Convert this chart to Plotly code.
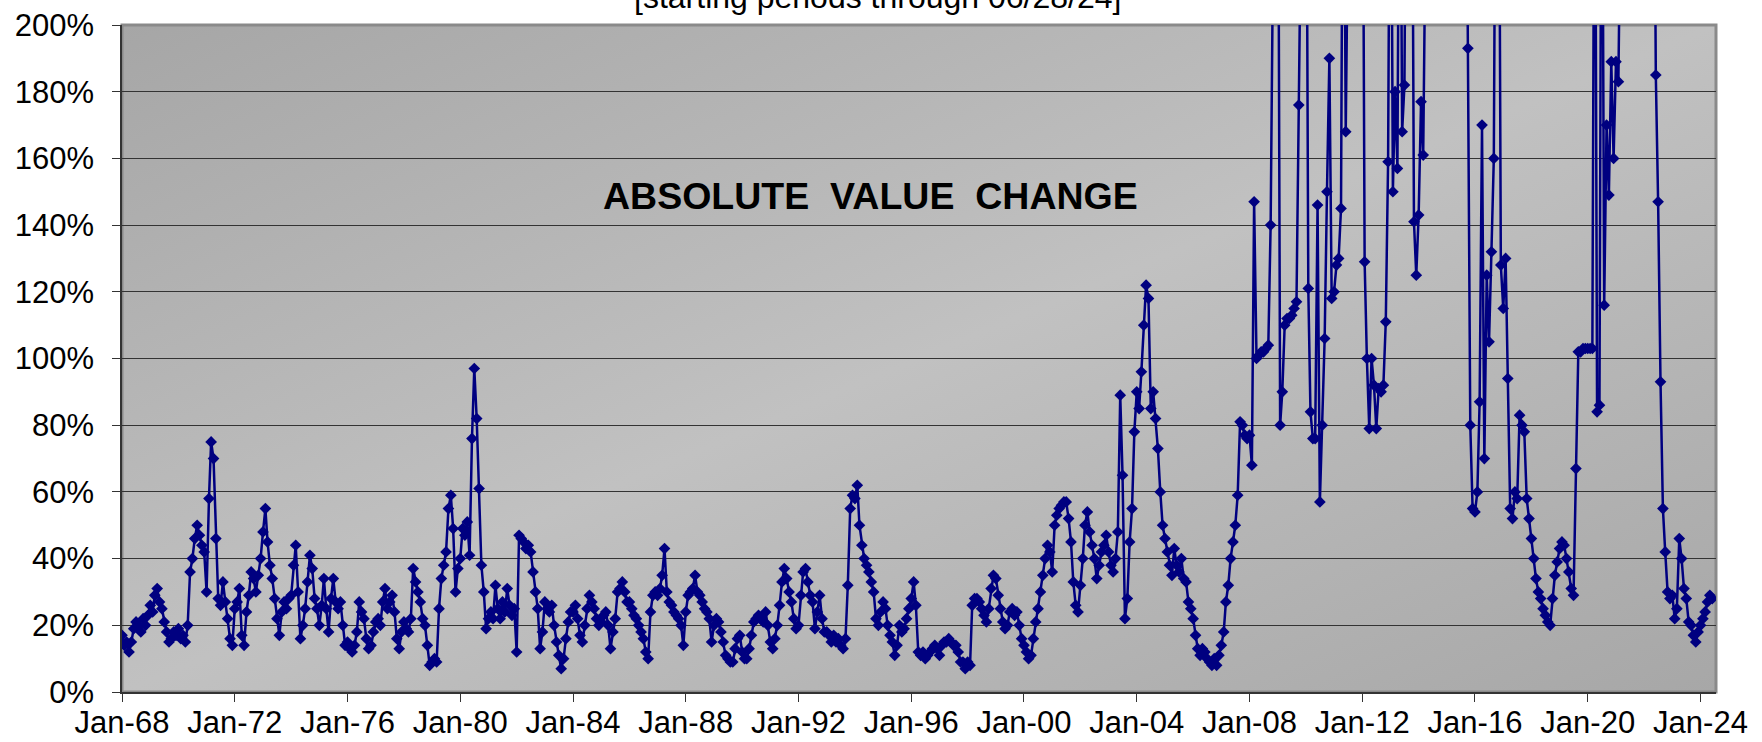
import base64
import pandas as pd
import plotly.graph_objects as go

# ---- data (percent absolute value change, monthly readings) ----
vals_1968_1977 = [
    17, 14, 15, 12, 15, 19, 21, 20, 18, 22, 20, 23,
    26, 24, 29, 31, 27, 25, 21, 18, 15, 16, 18, 17,
    19, 16, 17, 15, 20, 36, 40, 46, 50, 47, 44, 42,
    30, 58, 75, 70, 46, 28, 26, 33, 27, 22, 16, 14,
    25, 27, 31, 17, 14, 24, 29, 36, 34, 30, 35, 40,
    48, 55, 45, 38, 34, 28, 22, 17, 24, 27, 25, 28,
    29, 38, 44, 30, 16, 20, 25, 33, 41, 37, 28, 25,
    20, 26, 34, 25, 18, 28, 34, 27, 25, 27, 20, 14,
    15, 13, 12, 14, 18, 27, 24, 22, 16, 13, 14, 18,
    21, 22, 20, 27, 31, 25, 27, 29, 24, 16, 13, 18,
]
vals_1978_1987 = [
    21, 19, 18, 22, 37, 33, 30, 27, 22, 20, 14, 8,
    9, 10, 9, 25, 34, 38, 42, 55, 59, 49, 30, 37,
    40, 49, 47, 51, 41, 76, 97, 82, 61, 38, 30, 19,
    22, 24, 22, 32, 25, 22, 27, 24, 31, 26, 23, 25,
    12, 47, 46, 45, 43, 44, 42, 36, 30, 25, 13, 18,
    27, 25, 24, 26, 20, 15, 11, 7, 10, 16, 21, 24,
    24, 26, 22, 17, 15, 20, 25, 29, 27, 25, 22, 20,
    21, 23, 24, 20, 13, 18, 22, 30, 31, 33, 30, 27,
    27, 25, 23, 22, 20, 18, 16, 12, 10, 24, 29, 30,
    29, 31, 35, 43, 30, 27, 26, 24, 23, 22, 20, 14,
]
vals_1988_1997 = [
    24, 29, 30, 31, 35, 30, 29, 27, 25, 24, 22, 15,
    20, 22, 21, 18, 15, 11, 10, 9, 9, 13, 16, 17,
    12, 10, 10, 13, 17, 21, 22, 23, 22, 21, 24, 20,
    15, 13, 16, 20, 26, 33, 37, 34, 30, 27, 22, 19,
    20, 29, 36, 37, 33, 29, 27, 19, 24, 29, 22, 18,
    18, 17, 15, 17, 15, 16, 14, 13, 16, 32, 55, 59,
    58, 62, 50, 44, 40, 38, 36, 33, 30, 22, 20, 24,
    27, 25, 20, 17, 15, 11, 14, 20, 18, 19, 22, 25,
    28, 33, 26, 12, 11, 12, 10, 11, 12, 13, 14, 13,
    11, 14, 15, 15, 16, 15, 14, 14, 12, 9, 9, 7,
]
vals_1998_2007 = [
    9, 8, 26, 28, 28, 27, 25, 23, 21, 25, 31, 35,
    34, 29, 25, 21, 19, 20, 24, 25, 23, 24, 20, 16,
    14, 12, 10, 11, 16, 21, 25, 30, 35, 40, 44, 42,
    36, 50, 53, 55, 56, 57, 57, 52, 45, 33, 26, 24,
    32, 40, 50, 54, 48, 44, 40, 34, 38, 42, 44, 47,
    42, 38, 36, 40, 48, 89, 65, 22, 28, 45, 55, 78,
    90, 85, 96, 110, 122, 118, 85, 90, 82, 73, 60, 50,
    46, 42, 38, 35, 43, 38, 36, 40, 34, 33, 27, 25,
    22, 17, 13, 11, 13, 12, 10, 9, 8, 10, 8, 11,
    14, 18, 27, 32, 40, 45, 50, 59, 81, 80, 77, 76,
]
vals_2008_2017 = [
    77, 68, 147, 100, 101, 102, 102, 103, 104, 140, 300, 300,
    300, 80, 90, 110, 112, 112, 113, 115, 117, 176, 300, 300,
    300, 121, 84, 76, 76, 146, 57, 80, 106, 150, 190, 118,
    120, 128, 130, 145, 300, 168, 300, 300, 300, 300, 300, 300,
    300, 129, 100, 79, 100, 92, 79, 91, 90, 92, 111, 159,
    300, 150, 180, 157, 300, 168, 182, 300, 300, 300, 141, 125,
    143, 177, 161, 300, 300, 300, 300, 300, 300, 300, 300, 300,
    300, 300, 300, 300, 300, 300, 300, 300, 300, 193, 80, 55,
    54, 60, 87, 170, 70, 125, 105, 132, 160, 300, 300, 128,
    115, 130, 94, 55, 52, 60, 58, 83, 80, 78, 58, 52,
]
vals_2018_2024 = [
    46, 40, 34, 30, 28, 25, 23, 21, 20, 28, 35, 39,
    43, 45, 44, 40, 36, 31, 29, 67, 102, 102, 103, 103,
    103, 103, 103, 300, 84, 86, 300, 116, 170, 149, 189, 160,
    189, 183, 300, 300, 300, 300, 300, 300, 300, 300, 300, 300,
    300, 300, 300, 300, 300, 185, 147, 93, 55, 42, 30, 28,
    29, 22, 25, 46, 40, 31, 28, 21, 20, 17, 15, 18,
    20, 22, 24, 27, 29, 28,
]

values = (vals_1968_1977 + vals_1978_1987 + vals_1988_1997
          + vals_1998_2007 + vals_2008_2017 + vals_2018_2024)
dates = pd.date_range("1968-01-01", periods=len(values), freq="MS")

title_text = "[starting periods through 06/28/24]"
label_text = "ABSOLUTE\u00a0\u00a0VALUE\u00a0\u00a0CHANGE"

# ---- gradient background (diagonal, like the spreadsheet fill) ----
svg = (
    "<svg xmlns='http://www.w3.org/2000/svg' width='1600' height='670' "
    "viewBox='0 0 1600 670' preserveAspectRatio='none'>"
    "<defs><linearGradient id='g' x1='0' y1='0' x2='1' y2='1'>"
    "<stop offset='0' stop-color='#a6a6a6'/>"
    "<stop offset='0.5' stop-color='#c1c1c1'/>"
    "<stop offset='1' stop-color='#a7a7a7'/>"
    "</linearGradient></defs>"
    "<rect width='1600' height='670' fill='url(#g)'/></svg>"
)
bg_src = "data:image/svg+xml;base64," + base64.b64encode(svg.encode()).decode()

FONT = "Liberation Sans, Arial, sans-serif"

fig = go.Figure()
fig.add_trace(go.Scatter(
    x=dates, y=values, mode="lines+markers",
    line=dict(color="#000080", width=2.5),
    marker=dict(symbol="diamond", size=9, color="#000080"),
    showlegend=False, hoverinfo="skip",
))

fig.update_layout(
    width=1762, height=742,
    margin=dict(l=122, r=46, t=25, b=50, autoexpand=False),
    paper_bgcolor="white",
    plot_bgcolor="rgba(0,0,0,0)",
    font=dict(family=FONT, size=31, color="black"),
    images=[dict(source=bg_src, xref="paper", yref="paper", x=0, y=1,
                 sizex=1, sizey=1, sizing="stretch", layer="below",
                 xanchor="left", yanchor="top")],
    shapes=[dict(type="rect", xref="paper", yref="paper", x0=0, y0=0, x1=1, y1=1,
                 line=dict(color="#8a8a8a", width=3), layer="below")],
    annotations=[
        dict(text=title_text, xref="paper", yref="paper", x=0.4737, y=1,
             xanchor="center", yanchor="bottom", yshift=8, showarrow=False,
             font=dict(family=FONT, size=32, color="black")),
        dict(text=label_text, xref="paper", yref="paper", x=0.4697, y=0.7444,
             xanchor="center", yanchor="middle", yshift=-1, showarrow=False,
             font=dict(family=FONT, size=37.5, color="black", weight="bold")),
    ],
)

fig.update_xaxes(
    type="date", automargin=False,
    range=["1968-01-01", "2024-07-20"],
    tick0="1968-01-01", dtick="M48", tickformat="%b-%y",
    ticks="outside", ticklen=8, tickwidth=1, tickcolor="#333333",
    showgrid=False, showline=True, linecolor="#333333", linewidth=1.5,
    ticklabelstandoff=-6,
)
fig.update_yaxes(
    automargin=False,
    range=[0, 200], tick0=0, dtick=20, ticksuffix="%",
    ticks="outside", ticklen=8, tickwidth=1, tickcolor="#333333",
    showgrid=True, gridcolor="#333333", gridwidth=1,
    zeroline=False, showline=True, linecolor="#333333", linewidth=1.5,
    ticklabelstandoff=12,
)

fig.write_html("out.html", config={"displayModeBar": False},
               post_script="document.body.style.margin='0';document.body.style.overflow='hidden';")
